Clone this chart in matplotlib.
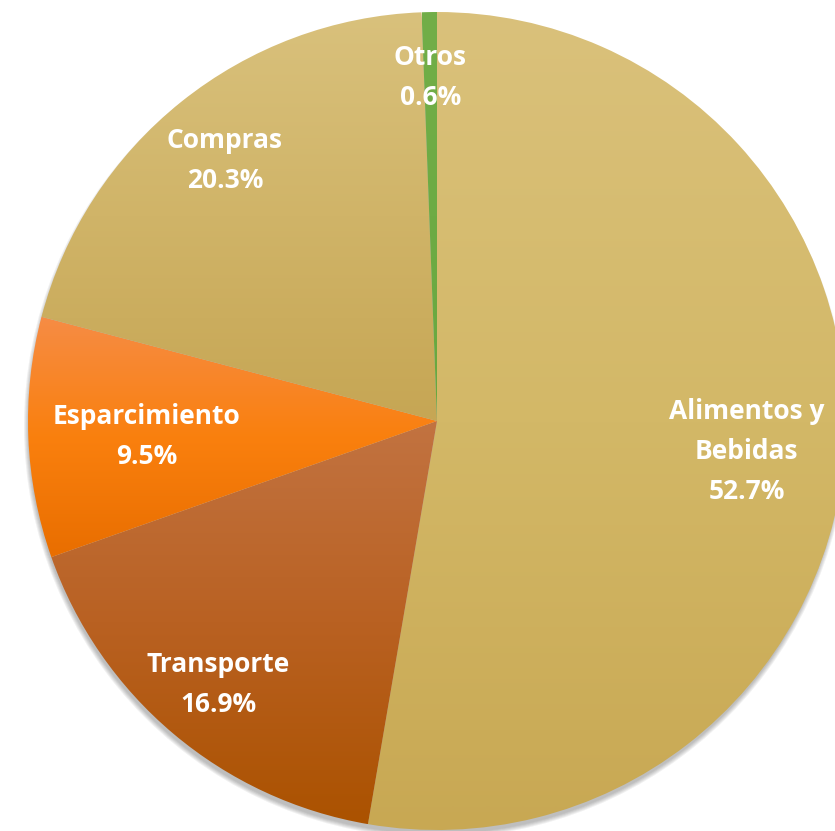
import matplotlib
matplotlib.use('Agg')
import matplotlib.pyplot as plt
import numpy as np
from matplotlib.colors import to_rgb
from matplotlib.patches import Circle

# Data
labels = ['Alimentos y\nBebidas', 'Transporte', 'Esparcimiento', 'Compras', 'Otros']
values = [52.7, 16.9, 9.5, 20.3, 0.6]

# Gradient colours per slice (top, middle, bottom)
grad_top = ['#dac17b', '#c27341', '#f68c45', '#d9c17c', '#72ae48']
grad_mid = ['#d3b867', '#b96122', '#fa800e', '#d0b468', '#6dab44']
grad_bot = ['#c8a853', '#ab5200', '#e96e00', '#c6a654', '#68a83f']
label_dist = [0.76, 0.83, 0.71, 0.83, 0.85]

W, H = 835, 831
cx, cy, R = 437, H - 421, 409

fig = plt.figure(figsize=(W / 100, H / 100), dpi=100)
ax = fig.add_axes([0, 0, 1, 1])
ax.set_xlim(0, W)
ax.set_ylim(0, H)
ax.axis('off')

# soft shadow under the pie (mostly toward the bottom)
for k in range(5):
    ax.add_patch(Circle((cx - 1, cy - 5), R - 1 + k, color='#303030',
                        alpha=0.07, lw=0, zorder=0))

wedges, _ = ax.pie(values, startangle=90, counterclock=False, center=(cx, cy),
                   radius=R, frame=True,
                   wedgeprops=dict(linewidth=0, edgecolor='none'))

for w, top, mid, bot in zip(wedges, grad_top, grad_mid, grad_bot):
    w.set_facecolor('none')
    verts = w.get_path().vertices
    y0, y1 = verts[:, 1].min(), verts[:, 1].max()
    x0, x1 = verts[:, 0].min(), verts[:, 0].max()
    t = np.linspace(0, 1, 256)[:, None]
    c0, c1, c2 = (np.array(to_rgb(c)) for c in (top, mid, bot))
    img = np.where(t < 0.5, c0 + (c1 - c0) * t * 2, c1 + (c2 - c1) * (t - 0.5) * 2)
    img = img[:, None, :]
    im = ax.imshow(img, extent=(x0, x1, y0, y1), origin='upper',
                   aspect='auto', zorder=1, interpolation='bilinear')
    im.set_clip_path(w)

# labels
total = sum(values)
cum = 0
for lab, v, d in zip(labels, values, label_dist):
    mid = 90 - (cum + v / 2) / total * 360
    cum += v
    a = np.deg2rad(mid)
    ax.text(cx + d * R * np.cos(a), cy + d * R * np.sin(a) - 4,
            f'{lab}\n{v:.1f}%', ha='center', va='center', color='white',
            fontsize=19, fontweight='bold', family='Open Sans',
            linespacing=1.62, zorder=5)

ax.set_xlim(0, W)
ax.set_ylim(0, H)
ax.axis('off')
fig.savefig('out.png', dpi=100)
